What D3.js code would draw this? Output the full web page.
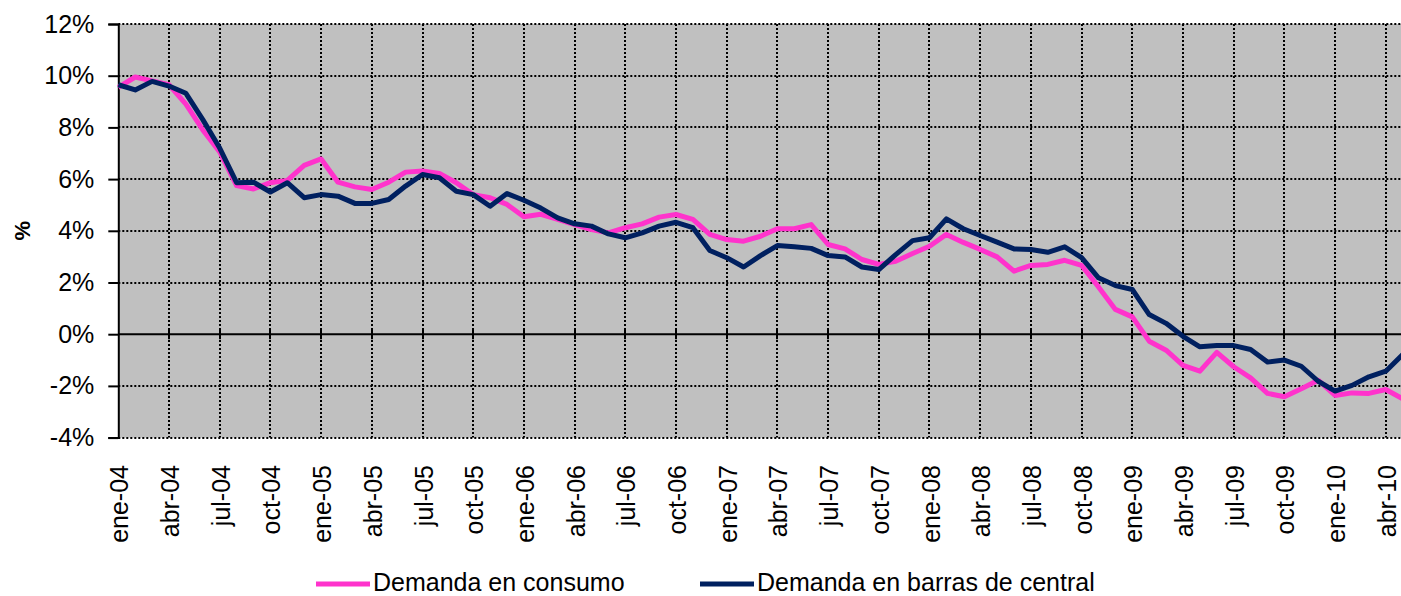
<!DOCTYPE html>
<html>
<head>
<meta charset="utf-8">
<script src="https://cdn.jsdelivr.net/npm/d3@7"></script>
<style>
  body { margin: 0; background: #fff; }
  svg text { font-family: "Liberation Sans", Arial, sans-serif; fill: #000; }
</style>
</head>
<body>
<div class="chart"></div>
<script>
// Data: monthly growth (%), ene-04 .. may-10
var monthNames = ["ene", "feb", "mar", "abr", "may", "jun", "jul", "ago", "sep", "oct", "nov", "dic"];
var years = ["04", "05", "06", "07", "08", "09", "10"];

var consumo = [
  9.55, 9.95, 9.8, 9.65, 8.9, 7.9, 7.05, 5.75, 5.62, 5.86, 5.95, 6.53,
  6.78, 5.88, 5.7, 5.6, 5.88, 6.27, 6.31, 6.22, 5.86, 5.4, 5.28, 5.02,
  4.54, 4.64, 4.44, 4.24, 4.05, 3.92, 4.12, 4.27, 4.53, 4.63, 4.44, 3.86,
  3.66, 3.6, 3.79, 4.08, 4.08, 4.24, 3.47, 3.3, 2.89, 2.7, 2.82, 3.12,
  3.4, 3.86, 3.55, 3.28, 2.99, 2.44, 2.66, 2.7, 2.86, 2.66, 1.83, 0.96,
  0.67, -0.27, -0.62, -1.21, -1.43, -0.7, -1.26, -1.69, -2.29, -2.42, -2.11, -1.78,
  -2.37, -2.27, -2.29, -2.14, -2.5
];

var barras = [
  9.65, 9.45, 9.78, 9.6, 9.32, 8.3, 7.2, 5.86, 5.88, 5.5, 5.86, 5.28,
  5.4, 5.34, 5.06, 5.06, 5.21, 5.73, 6.18, 6.05, 5.53, 5.4, 4.95, 5.44,
  5.18, 4.88, 4.5, 4.27, 4.18, 3.88, 3.73, 3.92, 4.18, 4.33, 4.12, 3.24,
  2.96, 2.6, 3.04, 3.43, 3.38, 3.32, 3.04, 2.99, 2.6, 2.5, 3.08, 3.62,
  3.73, 4.46, 4.08, 3.82, 3.56, 3.3, 3.28, 3.17, 3.38, 2.96, 2.18, 1.88,
  1.73, 0.76, 0.42, -0.08, -0.49, -0.44, -0.44, -0.59, -1.08, -1.0, -1.24, -1.82,
  -2.2, -1.98, -1.65, -1.43, -0.79
];

var yTicks = [-4, -2, 0, 2, 4, 6, 8, 10, 12];
var seriesNames = ["Demanda en consumo", "Demanda en barras de central"];
var seriesColors = ["#ff33cc", "#002060"];

// categories
var categories = [];
years.forEach(function (y) {
  monthNames.forEach(function (m) {
    categories.push(m + "-" + y);
  });
});
categories = categories.slice(0, consumo.length);

var svgWidth = 1401;
var svgHeight = 596;
var plot = { left: 118.3, top: 24, bottom: 437.6 };
var step = 16.9;

var svg = d3
  .select(".chart")
  .append("svg")
  .attr("width", svgWidth)
  .attr("height", svgHeight);

var xScale = d3
  .scalePoint()
  .domain(categories)
  .range([plot.left, plot.left + step * (categories.length - 1)]);

var yScale = d3.scaleLinear().domain([-4, 12]).range([plot.bottom, plot.top]);

var xRight = xScale(categories[categories.length - 1]);

// plot background
svg
  .append("rect")
  .attr("x", plot.left)
  .attr("y", plot.top)
  .attr("width", xRight - plot.left)
  .attr("height", plot.bottom - plot.top)
  .attr("fill", "#c0c0c0");

var tickCats = categories.filter(function (d, i) {
  return i % 3 === 0;
});

// vertical gridlines
svg
  .append("g")
  .selectAll("line")
  .data(tickCats.slice(1))
  .enter()
  .append("line")
  .attr("x1", (d) => Math.round(xScale(d)))
  .attr("x2", (d) => Math.round(xScale(d)))
  .attr("y1", plot.top)
  .attr("y2", plot.bottom)
  .attr("stroke", "#000")
  .attr("stroke-width", 2)
  .attr("stroke-dasharray", "2,2");

// horizontal gridlines
svg
  .append("g")
  .selectAll("line")
  .data(yTicks.filter((d) => d !== 0))
  .enter()
  .append("line")
  .attr("x1", plot.left)
  .attr("x2", xRight)
  .attr("y1", (d) => Math.round(yScale(d)))
  .attr("y2", (d) => Math.round(yScale(d)))
  .attr("stroke", "#000")
  .attr("stroke-width", 2)
  .attr("stroke-dasharray", "2,2");

// y axis
var leftAxis = d3
  .axisLeft(yScale)
  .tickValues(yTicks)
  .tickSize(10)
  .tickPadding(14)
  .tickFormat((d) => d + "%");

var yAxis = svg
  .append("g")
  .attr("transform", `translate(${plot.left}, 0)`)
  .call(leftAxis);
yAxis.select(".domain").attr("stroke-width", 2);
yAxis.selectAll(".tick line").attr("stroke-width", 2);
yAxis
  .selectAll("text")
  .style("font-size", "25px")
  .attr("font-family", null);

// x axis line at 0% with crossing ticks
svg
  .append("line")
  .attr("x1", plot.left)
  .attr("x2", xRight)
  .attr("y1", yScale(0))
  .attr("y2", yScale(0))
  .attr("stroke", "#000")
  .attr("stroke-width", 2);

svg
  .append("g")
  .selectAll("line")
  .data(tickCats.slice(1))
  .enter()
  .append("line")
  .attr("x1", (d) => Math.round(xScale(d)))
  .attr("x2", (d) => Math.round(xScale(d)))
  .attr("y1", yScale(0) - 5)
  .attr("y2", yScale(0) + 5)
  .attr("stroke", "#000")
  .attr("stroke-width", 2);

// x tick labels at the bottom
svg
  .append("g")
  .selectAll("text")
  .data(tickCats)
  .enter()
  .append("text")
  .attr("transform", (d) => `translate(${xScale(d) + 1}, 465) rotate(-90)`)
  .attr("text-anchor", "end")
  .attr("dy", "0.36em")
  .style("font-size", "25px")
  .text((d) => d);

// y axis title
svg
  .append("text")
  .attr("transform", `translate(30, ${(plot.top + plot.bottom) / 2}) rotate(-90)`)
  .attr("text-anchor", "middle")
  .style("font-size", "22px")
  .style("font-weight", "bold")
  .text("%");

// lines
var line = d3
  .line()
  .x((d, i) => xScale(categories[i]))
  .y((d) => yScale(d));

[consumo, barras].forEach(function (values, k) {
  svg
    .append("path")
    .datum(values)
    .attr("d", line)
    .attr("fill", "none")
    .attr("stroke", seriesColors[k])
    .attr("stroke-width", 5)
    .attr("stroke-linejoin", "round");
});

// legend
var legendX = [316, 700];
seriesNames.forEach(function (name, k) {
  var g = svg.append("g").attr("transform", `translate(${legendX[k]}, 584)`);
  g.append("line")
    .attr("x1", 0)
    .attr("x2", 54)
    .attr("stroke", seriesColors[k])
    .attr("stroke-width", 5);
  g.append("text")
    .attr("x", 57)
    .attr("y", 7)
    .style("font-size", "25px")
    .text(name);
});
</script>
</body>
</html>
